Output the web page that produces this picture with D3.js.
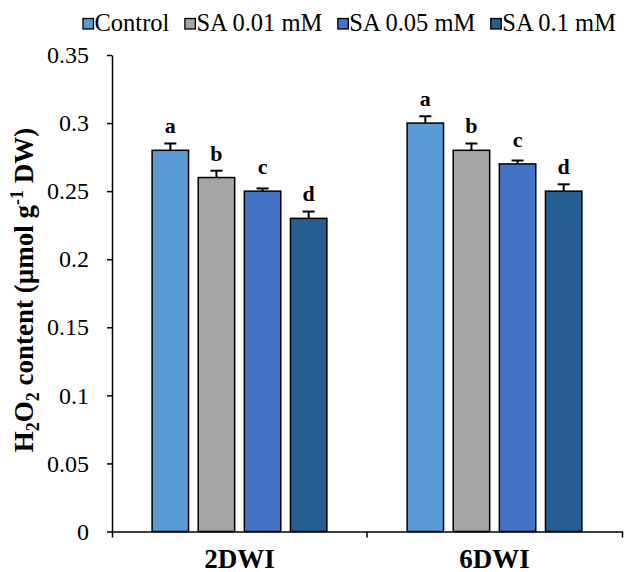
<!DOCTYPE html>
<html>
<head>
<meta charset="utf-8">
<script src="https://cdn.jsdelivr.net/npm/d3@7"></script>
<style>
  body { margin: 0; background: #fff; }
  svg { display: block; }
  text { font-family: "Liberation Serif", "Times New Roman", serif; fill: #000; }
</style>
</head>
<body>
<svg width="626" height="572"></svg>
<script>
var categories = ["2DWI", "6DWI"];
var series = ["Control", "SA 0.01 mM", "SA 0.05 mM", "SA 0.1 mM"];
var colors = ["#5B9BD5", "#A5A5A5", "#4472C4", "#255E91"];
var values2DWI = [0.28, 0.26, 0.25, 0.23];
var values6DWI = [0.30, 0.28, 0.27, 0.25];
var errors2DWI = [0.005, 0.005, 0.002, 0.005];
var errors6DWI = [0.005, 0.005, 0.0025, 0.005];
var letters2DWI = ["a", "b", "c", "d"];
var letters6DWI = ["a", "b", "c", "d"];
var yTicks = [0, 0.05, 0.1, 0.15, 0.2, 0.25, 0.3, 0.35];
var yTickLabels = ["0", "0.05", "0.1", "0.15", "0.2", "0.25", "0.3", "0.35"];

var values = [values2DWI, values6DWI];
var errors = [errors2DWI, errors6DWI];
var letters = [letters2DWI, letters6DWI];

var data = [];
categories.forEach(function (c, i) {
    series.forEach(function (s, j) {
        data.push({cat: c, series: s, value: values[i][j], err: errors[i][j], letter: letters[i][j], color: colors[j]});
    });
});

var serif = "'Liberation Serif', 'Times New Roman', serif";
var svg = d3.select("svg");
var margin = {"left": 112, "right": 622, "top": 55, "bottom": 531.5};

var x0 = d3.scaleBand().domain(categories).range([margin.left, margin.right]).padding(0);
var x1 = d3.scaleBand().domain(series).range([0, x0.bandwidth()]).paddingInner(0.21).paddingOuter(0.87);
var y = d3.scaleLinear().domain([0, 0.35]).range([margin.bottom, margin.top]);

// y axis
var yAxis = svg.append("g")
    .attr("transform", "translate(" + margin.left + ",0)")
    .call(d3.axisLeft(y).tickValues(yTicks).tickSize(5).tickSizeOuter(0).tickPadding(18)
        .tickFormat(function (d, i) { return yTickLabels[i]; }));
yAxis.attr("font-family", null).attr("font-size", null);
yAxis.selectAll("text").style("font-size", "24px").style("font-family", serif);
yAxis.selectAll("line, path").attr("stroke", "#000").attr("stroke-width", 1.5);

// bars
var bars = svg.append("g");
bars.selectAll("rect")
    .data(data)
    .enter().append("rect")
    .attr("x", function (d) { return x0(d.cat) + x1(d.series); })
    .attr("y", function (d) { return y(d.value); })
    .attr("width", x1.bandwidth())
    .attr("height", function (d) { return y(0) - y(d.value); })
    .attr("fill", function (d) { return d.color; })
    .attr("stroke", "#000")
    .attr("stroke-width", 1.5);

// error bars
var err = svg.append("g").attr("stroke", "#000").attr("stroke-width", 2);
data.forEach(function (d) {
    var cx = x0(d.cat) + x1(d.series) + x1.bandwidth() / 2;
    err.append("line").attr("x1", cx).attr("x2", cx).attr("y1", y(d.value)).attr("y2", y(d.value + d.err));
    err.append("line").attr("x1", cx - 6).attr("x2", cx + 6).attr("y1", y(d.value + d.err)).attr("y2", y(d.value + d.err));
});

// letters
svg.append("g").selectAll("text")
    .data(data)
    .enter().append("text")
    .attr("x", function (d) { return x0(d.cat) + x1(d.series) + x1.bandwidth() / 2; })
    .attr("y", function (d) { return y(d.value) - 17; })
    .attr("text-anchor", "middle")
    .style("font-family", serif)
    .style("font-size", "22px")
    .style("font-weight", "bold")
    .text(function (d) { return d.letter; });

// x axis
var xAxis = svg.append("g")
    .attr("transform", "translate(0," + margin.bottom + ")")
    .call(d3.axisBottom(x0).tickSize(0).tickSizeOuter(6).tickFormat(""));
xAxis.attr("font-family", null).attr("font-size", null);
xAxis.selectAll("path").attr("stroke", "#000").attr("stroke-width", 1.5);
categories.slice(1).forEach(function (c) {
    xAxis.append("line").attr("x1", x0(c)).attr("x2", x0(c)).attr("y1", 0).attr("y2", 6)
        .attr("stroke", "#000").attr("stroke-width", 1.5);
});
xAxis.selectAll(".catlabel")
    .data(categories)
    .enter().append("text")
    .attr("class", "catlabel")
    .attr("x", function (c) { return x0(c) + x0.bandwidth() / 2; })
    .attr("y", 36)
    .attr("text-anchor", "middle")
    .style("font-size", "27px")
    .style("font-weight", "bold")
    .style("font-family", serif)
    .attr("fill", "#000")
    .text(function (c) { return c; });

// y axis title
var yt = svg.append("text")
    .attr("transform", "translate(33,290) rotate(-90)")
    .attr("text-anchor", "middle")
    .style("font-family", serif)
    .style("font-size", "27px")
    .style("font-weight", "bold");
yt.append("tspan").text("H");
yt.append("tspan").attr("dy", 6).style("font-size", "18px").text("2");
yt.append("tspan").attr("dy", -6).text("O");
yt.append("tspan").attr("dy", 6).style("font-size", "18px").text("2");
yt.append("tspan").attr("dy", -6).text(" content (µmol g");
yt.append("tspan").attr("dy", -10).style("font-size", "18px").text("-1");
yt.append("tspan").attr("dy", 10).text(" DW)");

// legend
var legend = svg.append("g");
var lx = 83;
series.forEach(function (s, i) {
    legend.append("rect")
        .attr("x", lx).attr("y", 18.5).attr("width", 10.5).attr("height", 10.5)
        .attr("fill", colors[i]).attr("stroke", "#000").attr("stroke-width", 1.3);
    var t = legend.append("text")
        .attr("x", lx + 11.5).attr("y", 31)
        .style("font-family", serif)
        .style("font-size", "24.5px")
        .text(s);
    lx += 11.5 + t.node().getComputedTextLength() + 15.5;
});
</script>
</body>
</html>
